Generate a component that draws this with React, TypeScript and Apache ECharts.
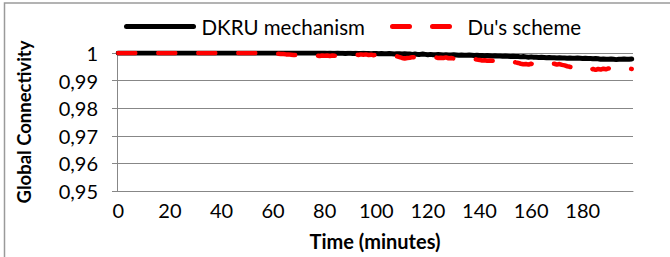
import React, { useEffect, useRef } from 'react';
import * as echarts from 'echarts';

// Time categories (minutes) 0..199
const timeCategories: string[] = Array.from({ length: 200 }, (_, i) => String(i));

const seriesNames = ['DKRU mechanism', "Du's scheme"];

// DKRU mechanism (black)
const dkruValues: number[] = [
  // 0-79
  1, 1, 1, 1, 1, 1, 1, 1, 1, 1, 1, 1, 1, 1, 1, 1, 1, 1, 1, 1,
  1, 1, 1, 1, 1, 1, 1, 1, 1, 1, 1, 1, 1, 1, 1, 1, 1, 1, 1, 1,
  1, 1, 1, 1, 1, 1, 1, 1, 1, 1, 1, 1, 1, 1, 1, 1, 1, 1, 1, 1,
  1, 1, 1, 1, 1, 1, 1, 1, 1, 1, 1, 1, 1, 1, 1, 1, 1, 1, 1, 1,
  // 80-109
  1, 0.9999, 1, 0.9999, 0.9999, 1, 0.9999, 0.9999, 0.9998, 0.9999,
  0.9999, 0.9998, 0.9999, 0.9998, 0.9998, 0.9999, 0.9998, 0.9998, 0.9997, 0.9998,
  0.9998, 0.9997, 0.9998, 0.9997, 0.9997, 0.9998, 0.9997, 0.9996, 0.9997, 0.9997,
  // 110-139
  0.9996, 0.9997, 0.9996, 0.9996, 0.9995, 0.9996, 0.9995, 0.9995, 0.9996, 0.9995,
  0.9994, 0.9995, 0.9994, 0.9994, 0.9995, 0.9994, 0.9993, 0.9994, 0.9993, 0.9993,
  0.9994, 0.9993, 0.9992, 0.9993, 0.9992, 0.9992, 0.9993, 0.9992, 0.9991, 0.9992,
  // 140-169
  0.9991, 0.9991, 0.999, 0.9991, 0.999, 0.9989, 0.999, 0.9989, 0.9989, 0.9988,
  0.9989, 0.9988, 0.9987, 0.9988, 0.9987, 0.9987, 0.9986, 0.9987, 0.9986, 0.9985,
  0.9986, 0.9985, 0.9985, 0.9984, 0.9985, 0.9984, 0.9983, 0.9984, 0.9983, 0.9983,
  // 170-186
  0.9982, 0.9983, 0.9982, 0.9982, 0.9981, 0.9982, 0.9981, 0.9981, 0.9982, 0.9981,
  0.998, 0.9981, 0.998, 0.998, 0.9979, 0.998, 0.9979,
  // 187-199
  0.9977, 0.9978, 0.9977, 0.9977, 0.9978, 0.9977, 0.9976, 0.9977, 0.9977, 0.9978,
  0.9977, 0.9977, 0.9978,
];

// Du's scheme (red dashed)
const duValues: number[] = [
  // 0-59
  1, 1, 1, 1, 1, 1, 1, 1, 1, 1, 1, 1, 1, 1, 1, 1, 1, 1, 1, 1,
  1, 1, 1, 1, 1, 1, 1, 1, 1, 1, 1, 1, 1, 1, 1, 1, 1, 1, 1, 1,
  1, 1, 1, 1, 1, 1, 1, 1, 1, 1, 1, 1, 1, 1, 1, 1, 1, 1, 1, 1,
  // 60-71
  0.9998, 0.9997, 0.9997, 0.9996, 0.9996, 0.9995, 0.9995, 0.9994, 0.9993, 0.9993, 0.9992, 0.9992,
  // 72-76
  0.9992, 0.9991, 0.9991, 0.9992, 0.9991,
  // 77-85
  0.9991, 0.9989, 0.9991, 0.999, 0.9991, 0.9989, 0.9991, 0.999, 0.9992,
  // 86-91
  0.9992, 0.9993, 0.9992, 0.9994, 0.9993, 0.9994,
  // 92-101
  0.9994, 0.9993, 0.9995, 0.9994, 0.9995, 0.9993, 0.9994, 0.9992, 0.9993, 0.9992,
  // 102-105
  0.9991, 0.9992, 0.999, 0.9991,
  // 106-115
  0.9992, 0.999, 0.9988, 0.9985, 0.9982, 0.998, 0.9982, 0.9983, 0.9985, 0.9984,
  // 116-121
  0.9984, 0.9985, 0.9983, 0.9984, 0.9983, 0.9984,
  // 122-130
  0.9983, 0.9984, 0.9982, 0.9983, 0.9982, 0.9984, 0.9981, 0.9982, 0.998,
  // 131-135
  0.9981, 0.9979, 0.998, 0.9978, 0.9979,
  // 136-144
  0.998, 0.9978, 0.9979, 0.9976, 0.9975, 0.9973, 0.9974, 0.9972, 0.9973,
  // 145-150
  0.9972, 0.9974, 0.9973, 0.9975, 0.9974, 0.9975,
  // 151-158
  0.9974, 0.9971, 0.9969, 0.9966, 0.9964, 0.9961, 0.9959, 0.996,
  // 159-164
  0.9958, 0.9961, 0.9959, 0.9962, 0.996, 0.9963,
  // 165-172
  0.9964, 0.9961, 0.9963, 0.996, 0.9961, 0.9958, 0.996, 0.9957,
  // 173-178
  0.9955, 0.9952, 0.995, 0.9947, 0.9945, 0.9942,
  // 179-185
  0.9941, 0.9943, 0.9947, 0.9944, 0.994, 0.9942, 0.9939,
  // 186-191
  0.9942, 0.994, 0.9943, 0.9941, 0.9944, 0.9942,
  // 192-199
  0.9945, 0.9943, 0.9946, 0.9944, 0.9945, 0.9943, 0.9944, 0.9942,
];

const FONT = 'Lato, "Open Sans", sans-serif';
const GRID = '#878787';

export default function App() {
  const ref = useRef<HTMLDivElement>(null);

  useEffect(() => {
    if (!ref.current) return;
    const chart = echarts.init(ref.current, undefined, { renderer: 'svg' });
    const legendCommon = {
      top: 16,
      padding: 0,
      itemWidth: 67,
      itemHeight: 12,
      itemGap: 0,
      textStyle: { fontFamily: FONT, fontSize: 20.5, color: '#000', padding: [0, 0, 0, 3] },
      itemStyle: { opacity: 0 },
      lineStyle: { width: 5 },
    };
    chart.setOption({
      animation: false,
      backgroundColor: '#fff',
      grid: { left: 117, right: 37, top: 53, bottom: 66, containLabel: false },
      legend: [
        { ...legendCommon, data: [seriesNames[0]], left: 124 },
        { ...legendCommon, data: [seriesNames[1]], left: 390 },
      ],
      graphic: [
        {
          type: 'rect',
          silent: true,
          z: -10,
          shape: { x: 4.5, y: 3, width: 720, height: 320 },
          style: { fill: 'none', stroke: '#9a9a9a', lineWidth: 1.5 },
        },
      ],
      xAxis: {
        type: 'category',
        data: timeCategories,
        boundaryGap: true,
        axisLine: { lineStyle: { color: GRID, width: 1 } },
        axisTick: { interval: 0, length: 4, lineStyle: { color: GRID } },
        axisLabel: { interval: 19, margin: 9, fontFamily: FONT, fontSize: 20, color: '#000' },
        splitLine: { show: false },
        name: 'Time (minutes)',
        nameLocation: 'middle',
        nameGap: 40,
        nameTextStyle: { fontFamily: FONT, fontSize: 20, fontWeight: 'bold', color: '#000' },
      },
      yAxis: {
        type: 'value',
        min: 0.95,
        max: 1,
        interval: 0.01,
        axisLine: { show: true, lineStyle: { color: GRID, width: 1 } },
        axisTick: { show: true, length: 5, lineStyle: { color: GRID } },
        splitLine: { show: true, lineStyle: { color: GRID, width: 1 } },
        axisLabel: {
          margin: 19,
          fontFamily: FONT,
          fontSize: 20,
          color: '#000',
          formatter: (v: number) => (v >= 0.99995 ? '1' : v.toFixed(2).replace('.', ',')),
        },
        name: 'Global Connectivity',
        nameLocation: 'middle',
        nameGap: 84,
        nameRotate: 90,
        nameTextStyle: { fontFamily: FONT, fontSize: 18.5, fontWeight: 'bold', color: '#000' },
      },
      series: [
        {
          name: seriesNames[0],
          type: 'line',
          data: dkruValues,
          symbol: 'none',
          lineStyle: { color: '#000', width: 5, cap: 'round', join: 'round' },
          itemStyle: { color: '#000' },
          z: 2,
        },
        {
          name: seriesNames[1],
          type: 'line',
          data: duValues,
          symbol: 'none',
          lineStyle: { color: '#ff0000', width: 4.5, type: [17, 23], cap: 'round', join: 'round' },
          itemStyle: { color: '#ff0000' },
          z: 3,
        },
      ],
    });
    return () => chart.dispose();
  }, []);

  return (
    <div
      ref={ref}
      style={{ position: 'fixed', left: 0, top: 0, width: 670, height: 257 }}
    />
  );
}
